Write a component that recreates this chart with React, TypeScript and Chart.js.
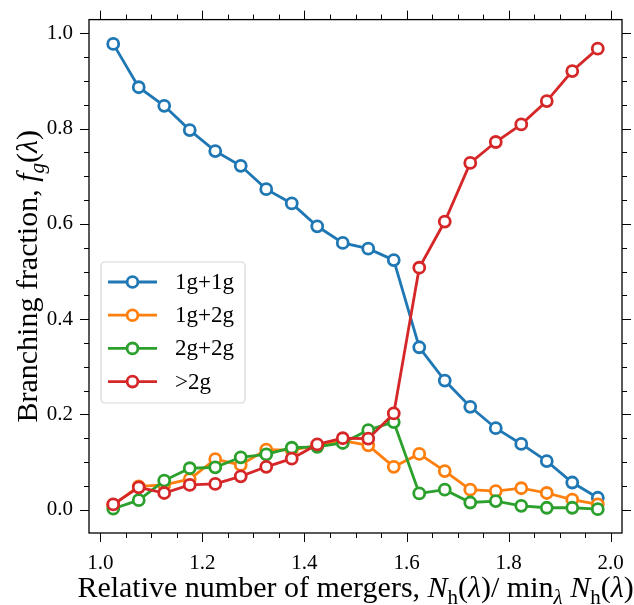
import React, { useEffect, useRef } from "react";
import { Chart, registerables } from "chart.js";

Chart.register(...registerables);

// ---- data ----
const xValues = [1.025, 1.075, 1.125, 1.175, 1.225, 1.275, 1.325, 1.375, 1.425, 1.475, 1.525, 1.575, 1.625, 1.675, 1.725, 1.775, 1.825, 1.875, 1.925, 1.975];
const series1g1g = [0.978, 0.887, 0.848, 0.797, 0.753, 0.722, 0.673, 0.643, 0.595, 0.560, 0.548, 0.524, 0.341, 0.271, 0.216, 0.171, 0.138, 0.102, 0.057, 0.025];
const series1g2g = [0.010, 0.049, 0.052, 0.064, 0.106, 0.094, 0.126, 0.125, 0.135, 0.145, 0.135, 0.090, 0.117, 0.081, 0.042, 0.039, 0.045, 0.035, 0.021, 0.011];
const series2g2g = [0.002, 0.020, 0.061, 0.087, 0.089, 0.110, 0.116, 0.130, 0.132, 0.140, 0.167, 0.184, 0.034, 0.042, 0.015, 0.018, 0.008, 0.004, 0.004, 0.001];
const seriesGt2g = [0.011, 0.047, 0.035, 0.052, 0.054, 0.070, 0.090, 0.107, 0.137, 0.150, 0.149, 0.202, 0.508, 0.605, 0.728, 0.772, 0.809, 0.858, 0.921, 0.968];
const seriesLabels = ["1g+1g", "1g+2g", "2g+2g", ">2g"];
const xTickLabels = ["1.0", "1.2", "1.4", "1.6", "1.8", "2.0"];
const yTickLabels = ["0.0", "0.2", "0.4", "0.6", "0.8", "1.0"];

const COLORS = ["#1f77b4", "#ff7f0e", "#2ca02c", "#d62728"];
const FONT = "'Liberation Serif', 'DejaVu Serif', serif";
const TICK_SIZE = 21;
const TITLE_SIZE = 30;
const LEGEND_SIZE = 23;

type Run = { t: string; it?: boolean; sub?: boolean };

function drawRuns(ctx: CanvasRenderingContext2D, runs: Run[], size: number) {
  const fontOf = (r: Run) => `${r.it ? "italic " : ""}${r.sub ? Math.round(size * 0.7) : size}px ${FONT}`;
  const widths = runs.map((r) => {
    ctx.font = fontOf(r);
    return ctx.measureText(r.t).width;
  });
  const total = widths.reduce((a, b) => a + b, 0);
  let x = -total / 2;
  ctx.textBaseline = "alphabetic";
  ctx.textAlign = "left";
  runs.forEach((r, i) => {
    ctx.font = fontOf(r);
    ctx.fillText(r.t, x, r.sub ? size * 0.22 : 0);
    x += widths[i];
  });
}

const xTitle: Run[] = [
  { t: "Relative number of mergers, " },
  { t: "N", it: true },
  { t: "h", sub: true },
  { t: "(" },
  { t: "λ", it: true },
  { t: ")/ min" },
  { t: "λ", it: true, sub: true },
  { t: " " },
  { t: "N", it: true },
  { t: "h", sub: true },
  { t: "(" },
  { t: "λ", it: true },
  { t: ")" },
];
const yTitle: Run[] = [
  { t: "Branching fraction, " },
  { t: "f", it: true },
  { t: "g", it: true, sub: true },
  { t: "(" },
  { t: "λ", it: true },
  { t: ")" },
];

const decorPlugin = {
  id: "decor",
  afterDatasetsDraw(chart: any) {
    const { ctx, chartArea: a, scales } = chart;
    const xs = scales.x;
    const ys = scales.y;
    ctx.save();
    ctx.strokeStyle = "#000";
    ctx.lineWidth = 1.3;
    ctx.strokeRect(a.left, a.top, a.right - a.left, a.bottom - a.top);
    ctx.lineWidth = 1;
    const MAJ = 9;
    const MIN = 5;
    for (let k = 0; k <= 40; k++) {
      const v = 0.9 + k * 0.05;
      if (v < xs.min - 1e-9 || v > xs.max + 1e-9) continue;
      const major = k % 4 === 2;
      const len = major ? MAJ : MIN;
      const px = Math.round(xs.getPixelForValue(v)) + 0.5;
      ctx.beginPath();
      ctx.moveTo(px, a.bottom);
      ctx.lineTo(px, a.bottom + len);
      ctx.moveTo(px, a.top);
      ctx.lineTo(px, a.top - len);
      ctx.stroke();
    }
    for (let k = 0; k <= 40; k++) {
      const v = -0.2 + k * 0.05;
      if (v < ys.min - 1e-9 || v > ys.max + 1e-9) continue;
      const major = k % 4 === 0;
      const len = major ? MAJ : MIN;
      const py = Math.round(ys.getPixelForValue(v)) + 0.5;
      ctx.beginPath();
      ctx.moveTo(a.left, py);
      ctx.lineTo(a.left - len, py);
      ctx.moveTo(a.right, py);
      ctx.lineTo(a.right + len, py);
      ctx.stroke();
    }
    ctx.restore();

    // axis titles
    ctx.save();
    ctx.fillStyle = "#000";
    ctx.translate((a.left + a.right) / 2, 597);
    drawRuns(ctx, xTitle, TITLE_SIZE);
    ctx.restore();
    ctx.save();
    ctx.fillStyle = "#000";
    ctx.translate(37, (a.top + a.bottom) / 2);
    ctx.rotate(-Math.PI / 2);
    drawRuns(ctx, yTitle, TITLE_SIZE);
    ctx.restore();

    // legend
    ctx.save();
    const bx = 101, by = 262, bw = 144, bh = 141, r = 4;
    ctx.beginPath();
    ctx.moveTo(bx + r, by);
    ctx.arcTo(bx + bw, by, bx + bw, by + bh, r);
    ctx.arcTo(bx + bw, by + bh, bx, by + bh, r);
    ctx.arcTo(bx, by + bh, bx, by, r);
    ctx.arcTo(bx, by, bx + bw, by, r);
    ctx.closePath();
    ctx.fillStyle = "rgba(255,255,255,0.8)";
    ctx.fill();
    ctx.strokeStyle = "rgba(204,204,204,0.8)";
    ctx.lineWidth = 1.2;
    ctx.stroke();
    chart.data.datasets.forEach((ds: any, i: number) => {
      const cy = 282 + i * 33.2;
      ctx.strokeStyle = ds.borderColor;
      ctx.lineWidth = 2.8;
      ctx.beginPath();
      ctx.moveTo(108, cy);
      ctx.lineTo(157, cy);
      ctx.stroke();
      ctx.beginPath();
      ctx.arc(132.5, cy, 5.4, 0, Math.PI * 2);
      ctx.fillStyle = "#fff";
      ctx.fill();
      ctx.stroke();
      ctx.fillStyle = "#000";
      ctx.font = `${LEGEND_SIZE}px ${FONT}`;
      ctx.textBaseline = "middle";
      ctx.textAlign = "left";
      ctx.fillText(ds.label, 175, cy + 1);
    });
    ctx.restore();
  },
};

export default function App() {
  const ref = useRef<HTMLCanvasElement | null>(null);
  useEffect(() => {
    document.body.style.margin = "0";
    const seriesList = [series1g1g, series1g2g, series2g2g, seriesGt2g];
    const chart = new Chart(ref.current as HTMLCanvasElement, {
      type: "line",
      data: {
        datasets: seriesList.map((s, i) => ({
          label: seriesLabels[i],
          data: xValues.map((x, j) => ({ x, y: s[j] })),
          borderColor: COLORS[i],
          backgroundColor: COLORS[i],
          borderWidth: 2.8,
          pointRadius: 5.5,
          pointBorderWidth: 2.8,
          pointBackgroundColor: "#fff",
          pointBorderColor: COLORS[i],
          tension: 0,
          order: 3 - i,
        })),
      },
      options: {
        responsive: false,
        animation: false,
        layout: { padding: { top: 15, right: 12, left: 0, bottom: 0 } },
        plugins: { legend: { display: false }, tooltip: { enabled: false } },
        scales: {
          x: {
            type: "linear",
            min: 0.9775,
            max: 2.0225,
            grid: { display: false, drawTicks: true, tickLength: 9 },
            border: { display: false },
            afterBuildTicks: (scale: any) => {
              scale.ticks = xTickLabels.map((l) => ({ value: parseFloat(l), label: l }));
            },
            ticks: {
              autoSkip: false,
              maxRotation: 0,
              padding: 9,
              color: "#000",
              font: { family: FONT, size: TICK_SIZE },
              callback: (v: any) => Number(v).toFixed(1),
            },
            afterFit: (scale: any) => {
              scale.height = 72;
            },
          },
          y: {
            type: "linear",
            min: -0.049,
            max: 1.029,
            grid: { display: false, drawTicks: true, tickLength: 9 },
            border: { display: false },
            afterBuildTicks: (scale: any) => {
              scale.ticks = yTickLabels.map((l) => ({ value: parseFloat(l), label: l }));
            },
            ticks: {
              autoSkip: false,
              padding: 7,
              color: "#000",
              font: { family: FONT, size: TICK_SIZE },
              callback: (v: any) => Number(v).toFixed(1),
            },
            afterFit: (scale: any) => {
              scale.width = 89;
            },
          },
        },
      },
      plugins: [decorPlugin],
    } as any);
    return () => chart.destroy();
  }, []);
  return (
    <div style={{ width: 634, height: 605 }}>
      <canvas ref={ref} width={634} height={605} style={{ display: "block" }} />
    </div>
  );
}
